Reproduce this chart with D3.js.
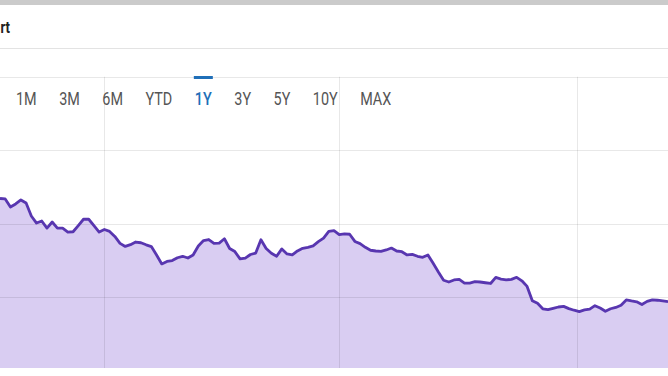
<!DOCTYPE html>
<html>
<head>
<meta charset="utf-8">
<script src="https://cdn.jsdelivr.net/npm/d3@7"></script>
<style>
  body { margin: 0; background: #fff; }
  svg { display: block; font-family: Roboto, "Noto Sans", sans-serif; }
</style>
</head>
<body>
<svg id="chart" width="668" height="376"></svg>
<script>
var ranges = ["1M", "3M", "6M", "YTD", "1Y", "3Y", "5Y", "10Y", "MAX"],
    activeRange = "1Y",
    priceTicks = [20, 25, 30, 35],
    startDate = new Date(2022, 10, 22),
    endDate = new Date(2023, 7, 5);

// closing price, one reading every second day
var prices = [
  26.70, 26.67, 26.12, 26.33, 26.60, 26.39, 25.51, 25.03, 25.17, 24.69,
  25.10, 24.69, 24.69, 24.42, 24.44, 24.86, 25.29, 25.29, 24.86, 24.42,
  24.59, 24.46, 24.12, 23.65, 23.44, 23.56, 23.74, 23.69, 23.55, 23.43,
  22.86, 22.25, 22.42, 22.48, 22.67, 22.77, 22.65, 22.86, 23.47, 23.84,
  23.91, 23.65, 23.67, 23.96, 23.30, 23.09, 22.59, 22.65, 22.89, 22.99,
  23.89, 23.30, 22.97, 22.77, 23.27, 22.93, 22.86, 23.13, 23.31, 23.38,
  23.48, 23.77, 24.01, 24.46, 24.52, 24.25, 24.30, 24.27, 23.78, 23.63,
  23.38, 23.18, 23.13, 23.10, 23.20, 23.33, 23.13, 23.08, 22.86, 22.90,
  22.77, 22.70, 22.86, 22.29, 21.70, 21.14, 21.02, 21.16, 21.20, 20.95,
  20.95, 21.04, 21.02, 20.97, 20.92, 21.33, 21.22, 21.16, 21.20, 21.34,
  21.10, 20.72, 19.75, 19.57, 19.20, 19.14, 19.23, 19.32, 19.36, 19.21,
  19.10, 19.01, 19.12, 19.18, 19.41, 19.25, 19.03, 19.20, 19.29, 19.44,
  19.80, 19.73, 19.67, 19.49, 19.70, 19.81, 19.78, 19.73, 19.68
];

var data = prices.map(function(p, i) {
  return { date: d3.timeDay.offset(startDate, 2 * i), price: p };
});

var width = 668,
    plotTop = 76.5,
    plotBottom = 368;

var svg = d3.select("#chart");

var x = d3.scaleTime()
  .domain([startDate, endDate])
  .range([0, width]);

var y = d3.scaleLinear()
  .domain([15, 35])
  .range([370.5, 76.5]);

svg.append("clipPath")
  .attr("id", "plot-clip")
  .append("rect")
  .attr("x", 0)
  .attr("y", plotTop)
  .attr("width", width)
  .attr("height", plotBottom - plotTop);

var plot = svg.append("g")
  .attr("clip-path", "url(#plot-clip)");

var area = d3.area()
  .x(function(d) { return x(d.date); })
  .y0(y(15))
  .y1(function(d) { return y(d.price); });

var line = d3.line()
  .x(function(d) { return x(d.date); })
  .y(function(d) { return y(d.price); });

plot.append("path")
  .datum(data)
  .attr("fill", "#d9cdf2")
  .attr("d", area);

// grid sits over the fill so it shows through it
plot.selectAll("line.hgrid")
  .data(priceTicks)
  .enter().append("line")
  .attr("class", "hgrid")
  .attr("x1", 0)
  .attr("x2", width)
  .attr("y1", function(d) { return Math.round(y(d)) + 0.5; })
  .attr("y2", function(d) { return Math.round(y(d)) + 0.5; })
  .attr("stroke", "rgba(0,0,0,0.09)");

plot.selectAll("line.vgrid")
  .data(x.ticks(d3.timeMonth.every(3)))
  .enter().append("line")
  .attr("class", "vgrid")
  .attr("x1", function(d) { return Math.round(x(d)) + 0.5; })
  .attr("x2", function(d) { return Math.round(x(d)) + 0.5; })
  .attr("y1", plotTop)
  .attr("y2", plotBottom)
  .attr("stroke", "rgba(0,0,0,0.09)");

plot.append("path")
  .datum(data)
  .attr("fill", "none")
  .attr("stroke", "#5836b0")
  .attr("stroke-width", 2.8)
  .attr("stroke-linejoin", "round")
  .attr("d", line);

// header (title is scrolled off to the left, only its tail shows)
svg.append("rect")
  .attr("width", width)
  .attr("height", 5)
  .attr("fill", "#cbcbcb");

svg.append("line")
  .attr("x1", 0)
  .attr("x2", width)
  .attr("y1", 48.5)
  .attr("y2", 48.5)
  .attr("stroke", "#e3e3e3");

svg.append("text")
  .attr("transform", "translate(10,33) scale(0.82,1)")
  .attr("text-anchor", "end")
  .attr("font-size", 16)
  .attr("font-weight", 700)
  .attr("fill", "#222")
  .text("rt");

// range buttons, laid out one after another
var bx = 16;
var buttons = svg.append("g");
ranges.forEach(function(r) {
  var active = r === activeRange;
  var t = buttons.append("text")
    .attr("font-size", 18)
    .attr("font-weight", active ? 500 : 400)
    .attr("fill", active ? "#1f6fb8" : "#555")
    .text(r);
  var w = t.node().getComputedTextLength() * 0.8;
  t.attr("transform", "translate(" + bx + ",105) scale(0.8,1)");
  if (active) {
    buttons.append("rect")
      .attr("x", bx - 1)
      .attr("y", 76)
      .attr("width", w + 2)
      .attr("height", 3)
      .attr("fill", "#1f6fb8");
  }
  bx += w + 22.5;
});
</script>
</body>
</html>
